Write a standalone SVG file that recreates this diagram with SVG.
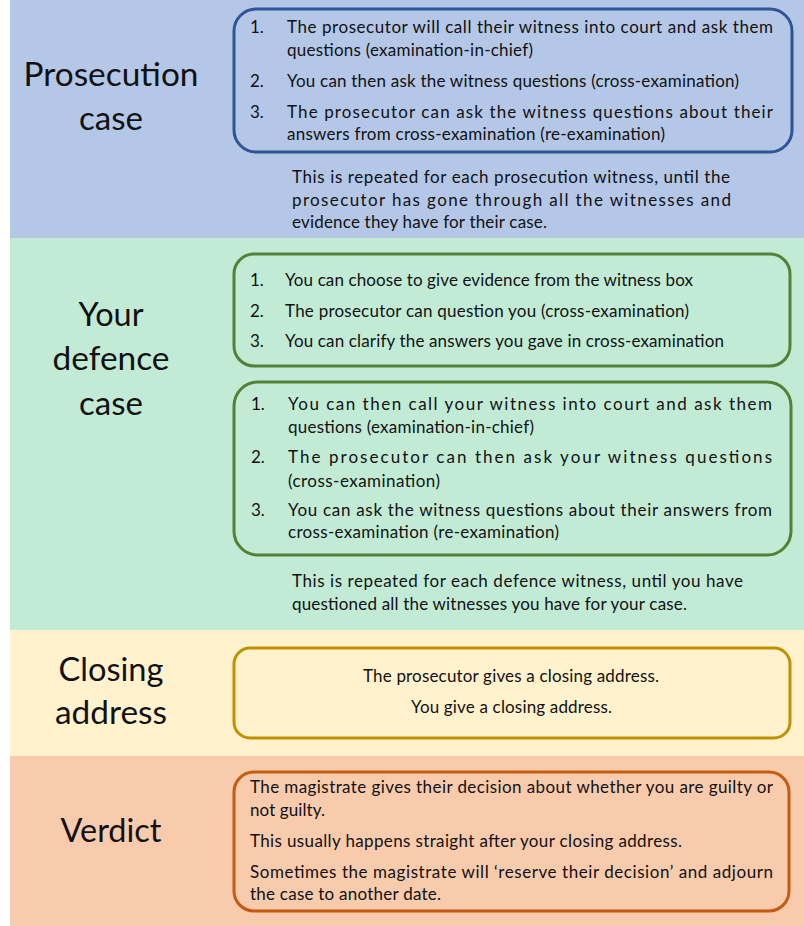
<svg xmlns="http://www.w3.org/2000/svg" width="804" height="926" viewBox="0 0 804 926">
<style>
.t{font-family:Lato,"Liberation Sans",sans-serif;font-size:17px;fill:#111}
.h{font-family:Lato,"Liberation Sans",sans-serif;font-size:32px;fill:#111;text-anchor:middle}
.box{fill:none;stroke-width:3}
</style>
<rect x="0" y="0" width="804" height="926" fill="#fff"/>
<g id="prosecution">
<rect x="10" y="0" width="794" height="238" fill="#B4C7E7"/>
<text class="h" x="111" y="86" textLength="175" lengthAdjust="spacingAndGlyphs">Prosecution</text>
<text class="h" x="111" y="130" textLength="64" lengthAdjust="spacingAndGlyphs">case</text>
<rect class="box" x="234" y="9" width="558" height="143" rx="22" stroke="#2F5597"/>
<text class="t" x="250" y="33">1.</text>
<text class="t" x="287" y="33" textLength="486" lengthAdjust="spacing">The prosecutor will call their witness into court and ask them</text>
<text class="t" x="287" y="56" textLength="246" lengthAdjust="spacing">questions (examination-in-chief)</text>
<text class="t" x="250" y="87">2.</text>
<text class="t" x="287" y="87" textLength="452" lengthAdjust="spacing">You can then ask the witness questions (cross-examination)</text>
<text class="t" x="250" y="118">3.</text>
<text class="t" x="287" y="118" textLength="486" lengthAdjust="spacing">The prosecutor can ask the witness questions about their</text>
<text class="t" x="287" y="140" textLength="378" lengthAdjust="spacing">answers from cross-examination (re-examination)</text>
<text class="t" x="292" y="183" textLength="438" lengthAdjust="spacing">This is repeated for each prosecution witness, until the</text>
<text class="t" x="292" y="206" textLength="439" lengthAdjust="spacing">prosecutor has gone through all the witnesses and</text>
<text class="t" x="292" y="228" textLength="255" lengthAdjust="spacing">evidence they have for their case.</text>
</g>
<g id="defence">
<rect x="10" y="238" width="794" height="392" fill="#C2EBD6"/>
<text class="h" x="111" y="326" textLength="65" lengthAdjust="spacingAndGlyphs">Your</text>
<text class="h" x="111" y="370" textLength="117" lengthAdjust="spacingAndGlyphs">defence</text>
<text class="h" x="111" y="415" textLength="64" lengthAdjust="spacingAndGlyphs">case</text>
<rect class="box" x="234" y="254" width="556" height="112" rx="20" stroke="#538135"/>
<text class="t" x="250" y="286">1.</text>
<text class="t" x="285" y="286" textLength="408" lengthAdjust="spacing">You can choose to give evidence from the witness box</text>
<text class="t" x="250" y="317">2.</text>
<text class="t" x="285" y="317" textLength="404" lengthAdjust="spacing">The prosecutor can question you (cross-examination)</text>
<text class="t" x="250" y="347">3.</text>
<text class="t" x="285" y="347" textLength="439" lengthAdjust="spacing">You can clarify the answers you gave in cross-examination</text>
<rect class="box" x="234" y="382" width="557" height="173" rx="24" stroke="#538135"/>
<text class="t" x="251" y="410">1.</text>
<text class="t" x="288" y="410" textLength="484" lengthAdjust="spacing">You can then call your witness into court and ask them</text>
<text class="t" x="288" y="433" textLength="246" lengthAdjust="spacing">questions (examination-in-chief)</text>
<text class="t" x="251" y="463">2.</text>
<text class="t" x="288" y="463" textLength="484" lengthAdjust="spacing">The prosecutor can then ask your witness questions</text>
<text class="t" x="288" y="487" textLength="152" lengthAdjust="spacing">(cross-examination)</text>
<text class="t" x="251" y="516">3.</text>
<text class="t" x="288" y="516" textLength="484" lengthAdjust="spacing">You can ask the witness questions about their answers from</text>
<text class="t" x="288" y="538" textLength="271" lengthAdjust="spacing">cross-examination (re-examination)</text>
<text class="t" x="292" y="587" textLength="451" lengthAdjust="spacing">This is repeated for each defence witness, until you have</text>
<text class="t" x="292" y="610" textLength="395" lengthAdjust="spacing">questioned all the witnesses you have for your case.</text>
</g>
<g id="closing">
<rect x="10" y="630" width="794" height="126" fill="#FFF2CC"/>
<text class="h" x="111" y="681" textLength="105" lengthAdjust="spacingAndGlyphs">Closing</text>
<text class="h" x="111" y="724" textLength="112" lengthAdjust="spacingAndGlyphs">address</text>
<rect class="box" x="234" y="648" width="556" height="90" rx="16" stroke="#BF9000"/>
<text class="t" x="363" y="682" textLength="296" lengthAdjust="spacing">The prosecutor gives a closing address.</text>
<text class="t" x="411" y="713" textLength="201" lengthAdjust="spacing">You give a closing address.</text>
</g>
<g id="verdict">
<rect x="10" y="756" width="794" height="170" fill="#F8CBAD"/>
<text class="h" x="111" y="842" textLength="101" lengthAdjust="spacingAndGlyphs">Verdict</text>
<rect class="box" x="234" y="772" width="555" height="139" rx="20" stroke="#C55A11"/>
<text class="t" x="250" y="793" textLength="523" lengthAdjust="spacing">The magistrate gives their decision about whether you are guilty or</text>
<text class="t" x="250" y="816" textLength="75" lengthAdjust="spacing">not guilty.</text>
<text class="t" x="250" y="847" textLength="432" lengthAdjust="spacing">This usually happens straight after your closing address.</text>
<text class="t" x="250" y="878" textLength="523" lengthAdjust="spacing">Sometimes the magistrate will ‘reserve their decision’ and adjourn</text>
<text class="t" x="250" y="900" textLength="191" lengthAdjust="spacing">the case to another date.</text>
</g>
</svg>
